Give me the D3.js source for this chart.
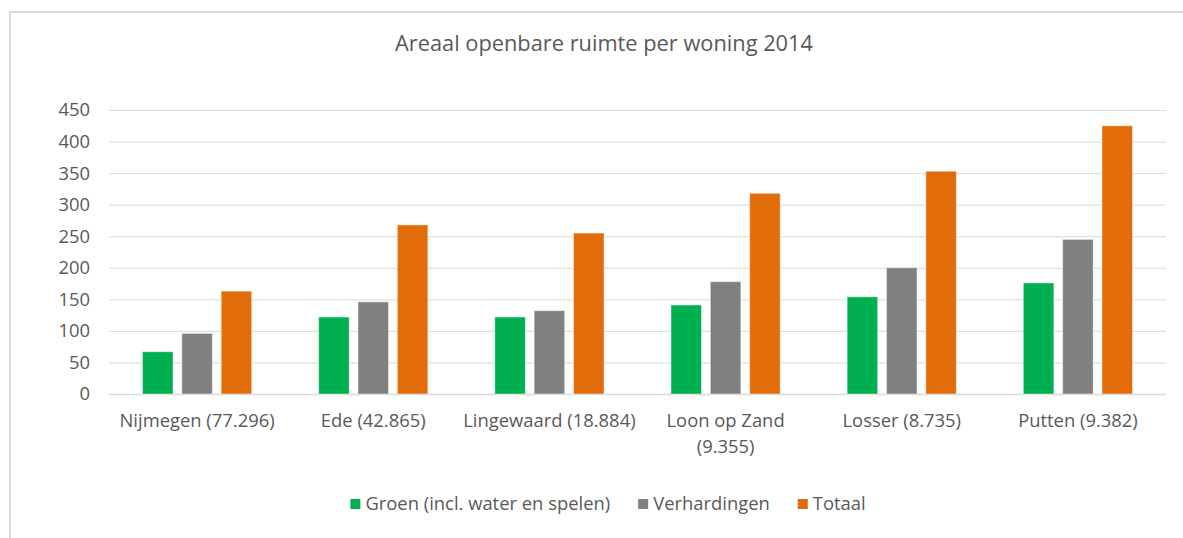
<!DOCTYPE html>
<html>
<head>
<meta charset="utf-8">
<script src="https://cdn.jsdelivr.net/npm/d3@7"></script>
<style>
  body { margin: 0; background: #fff; }
  svg text { font-family: "Open Sans", sans-serif; fill: #595959; }
</style>
</head>
<body>
<div id="chart"></div>
<script>
// data
var categories = ["Nijmegen (77.296)", "Ede (42.865)", "Lingewaard (18.884)", "Loon op Zand (9.355)", "Losser (8.735)", "Putten (9.382)"];
var seriesNames = ["Groen (incl. water en spelen)", "Verhardingen", "Totaal"];
var groen = [67, 122, 122, 141, 154, 176];
var verhardingen = [96, 146, 132, 178, 200, 245];
var totaal = [163, 268, 255, 318, 353, 425];
var yTicks = [0, 50, 100, 150, 200, 250, 300, 350, 400, 450];
var colors = ["#00B050", "#808080", "#E36C0A"];

var w = 1183;
var h = 538;
var margin = { left: 109, right: 17, top: 110, bottom: 144 };
var labelSize = "18.4px";

var svg = d3.select("#chart")
    .append("svg")
    .attr("width", w)
    .attr("height", h);

// light frame (top + left edge as in the screenshot)
svg.append("path")
    .attr("d", "M10," + h + "V12H" + w)
    .attr("fill", "none")
    .attr("stroke", "#d9d9d9")
    .attr("stroke-width", 2);

// title
svg.append("text")
    .attr("x", 604)
    .attr("y", 51)
    .attr("text-anchor", "middle")
    .style("font-size", "21.8px")
    .text("Areaal openbare ruimte per woning 2014");

var yScale = d3.scaleLinear()
    .domain([0, 450])
    .range([h - margin.bottom, margin.top]);

var x0 = d3.scaleBand()
    .domain(categories)
    .range([margin.left, w - margin.right])
    .paddingInner(0.38)
    .paddingOuter(0.19);

var x1 = d3.scaleBand()
    .domain(seriesNames)
    .range([0, x0.bandwidth()])
    .paddingInner(0.224);

// gridlines + y labels through an axis
var yAxis = d3.axisLeft(yScale)
    .tickValues(yTicks)
    .tickSize(-(w - margin.left - margin.right))
    .tickPadding(19);

var gy = svg.append("g")
    .attr("transform", "translate(" + margin.left + ",0)")
    .call(yAxis);
gy.select(".domain").remove();
gy.selectAll(".tick line")
    .attr("stroke", "#d9d9d9")
    .attr("stroke-width", function (d) { return d === 0 ? 1.5 : 1; });
gy.selectAll(".tick text")
    .style("font-size", labelSize)
    .attr("fill", "#595959");

// bars
var rows = categories.map(function (c, i) {
    return { cat: c, values: [groen[i], verhardingen[i], totaal[i]] };
});

var groups = svg.selectAll("g.group")
    .data(rows)
    .enter()
    .append("g")
    .attr("class", "group")
    .attr("transform", function (d) {
        return "translate(" + x0(d.cat) + ",0)";
    });

groups.selectAll("rect")
    .data(function (d) {
        return d.values.map(function (v, j) { return { name: seriesNames[j], value: v, j: j }; });
    })
    .enter()
    .append("rect")
    .attr("x", function (d) { return x1(d.name); })
    .attr("y", function (d) { return yScale(d.value); })
    .attr("width", x1.bandwidth())
    .attr("height", function (d) { return yScale(0) - yScale(d.value); })
    .attr("fill", function (d) { return colors[d.j]; })
    .attr("stroke", "#ffffff")
    .attr("stroke-opacity", 0.45)
    .attr("stroke-width", 1);

// category labels, wrapped when wider than the band step
var xLabels = svg.selectAll("text.xlab")
    .data(categories)
    .enter()
    .append("text")
    .attr("class", "xlab")
    .attr("text-anchor", "middle")
    .attr("x", function (d) { return x0(d) + x0.bandwidth() / 2; })
    .attr("y", 427)
    .style("font-size", labelSize)
    .text(function (d) { return d; });

xLabels.each(function (d) {
    var t = d3.select(this);
    if (this.getComputedTextLength() > x0.step() + 4) {
        var words = d.split(" ");
        var last = words.pop();
        var cx = t.attr("x");
        t.text(null);
        t.append("tspan").attr("x", cx).attr("dy", 0).text(words.join(" "));
        t.append("tspan").attr("x", cx).attr("dy", 26).text(last);
    }
});

// legend
var legend = svg.append("g");
var lx = 0;
seriesNames.forEach(function (name, i) {
    var item = legend.append("g").attr("transform", "translate(" + lx + ",0)");
    item.append("rect")
        .attr("x", 0)
        .attr("y", -11)
        .attr("width", 10)
        .attr("height", 10)
        .attr("fill", colors[i]);
    var txt = item.append("text")
        .attr("x", 15)
        .attr("y", 0)
        .style("font-size", labelSize)
        .text(name);
    lx += 15 + txt.node().getComputedTextLength() + 28;
});
var legendWidth = lx - 28;
legend.attr("transform", "translate(" + (608 - legendWidth / 2) + ",510)");
</script>
</body>
</html>
